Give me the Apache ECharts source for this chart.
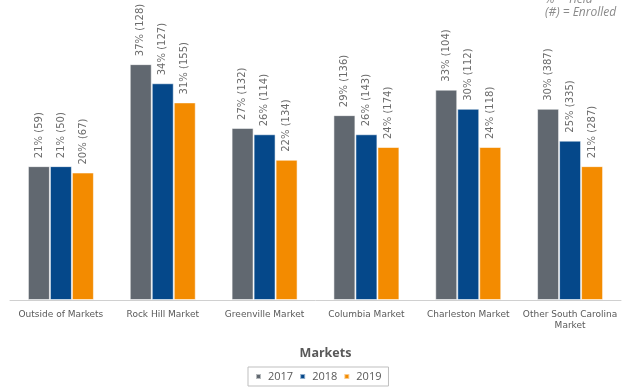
<!DOCTYPE html>
<html>
<head>
<meta charset="utf-8">
<script src="https://cdn.jsdelivr.net/npm/echarts@6/dist/echarts.min.js"></script>
<style>
  html, body { margin: 0; padding: 0; background: #fff; }
  #chart { width: 623px; height: 390px; }
</style>
</head>
<body>
<div id="chart"></div>
<script>
// Yield (%) and enrolled counts by market, 2017-2019
const markets = [
  'Outside of Markets',
  'Rock Hill Market',
  'Greenville Market',
  'Columbia Market',
  'Charleston Market',
  'Other South Carolina\nMarket'
];
const years = ['2017', '2018', '2019'];
const yield2017 = [21, 37, 27, 29, 33, 30];
const yield2018 = [21, 34, 26, 26, 30, 25];
const yield2019 = [20, 31, 22, 24, 24, 21];
const enrolled2017 = [59, 128, 132, 136, 104, 387];
const enrolled2018 = [50, 127, 114, 143, 112, 335];
const enrolled2019 = [67, 155, 134, 174, 118, 287];
const colors = ['#616870', '#05488A', '#F38B00'];

const yields = [yield2017, yield2018, yield2019];
const enrolled = [enrolled2017, enrolled2018, enrolled2019];

const chart = echarts.init(document.getElementById('chart'));

const series = years.map((yr, i) => ({
  name: yr,
  type: 'bar',
  barWidth: 22,
  barGap: '0%',
  data: yields[i],
  itemStyle: {
    color: colors[i],
    borderColor: 'rgba(255,255,255,0.55)',
    borderWidth: 1
  },
  label: {
    show: true,
    position: 'top',
    rotate: 90,
    align: 'left',
    verticalAlign: 'middle',
    distance: 8,
    fontFamily: 'DejaVu Sans',
    fontSize: 10,
    color: '#6b6b6b',
    formatter: p => p.value + '% (' + enrolled[i][p.dataIndex] + ')'
  }
}));

chart.setOption({
  animation: false,
  color: colors,
  grid: { left: 10, right: 2, top: 45, bottom: 90, containLabel: false },
  xAxis: {
    type: 'category',
    data: markets,
    name: 'Markets',
    nameLocation: 'middle',
    nameGap: 47,
    nameTextStyle: {
      fontFamily: 'Open Sans',
      fontWeight: 'bold',
      fontSize: 12.5,
      color: '#595959',
      padding: [0, 0, 0, 20]
    },
    axisLine: { lineStyle: { color: '#d0d0d0', width: 1 } },
    axisTick: { show: false },
    axisLabel: {
      interval: 0,
      margin: 9,
      fontFamily: 'DejaVu Sans',
      fontSize: 9,
      lineHeight: 11,
      color: '#595959'
    }
  },
  yAxis: {
    type: 'value',
    min: 0,
    max: 40,
    show: false,
    splitLine: { show: false }
  },
  legend: {
    data: years,
    left: 248,
    top: 367,
    icon: 'rect',
    itemWidth: 5,
    itemHeight: 5,
    itemGap: 6,
    padding: [4, 7],
    borderColor: '#bfbfbf',
    borderWidth: 1,
    textStyle: {
      fontFamily: 'Open Sans',
      fontSize: 11,
      color: '#595959',
      padding: [0, 0, 0, 2]
    }
  },
  graphic: [
    {
      type: 'text',
      left: 545,
      top: -6,
      style: {
        text: '% = Yield',
        font: 'italic 12px "Open Sans"',
        fill: '#8a8a8a'
      }
    },
    {
      type: 'text',
      left: 545,
      top: 7,
      style: {
        text: '(#) = Enrolled',
        font: 'italic 12px "Open Sans"',
        fill: '#8a8a8a'
      }
    }
  ],
  series: series
});
</script>
</body>
</html>
